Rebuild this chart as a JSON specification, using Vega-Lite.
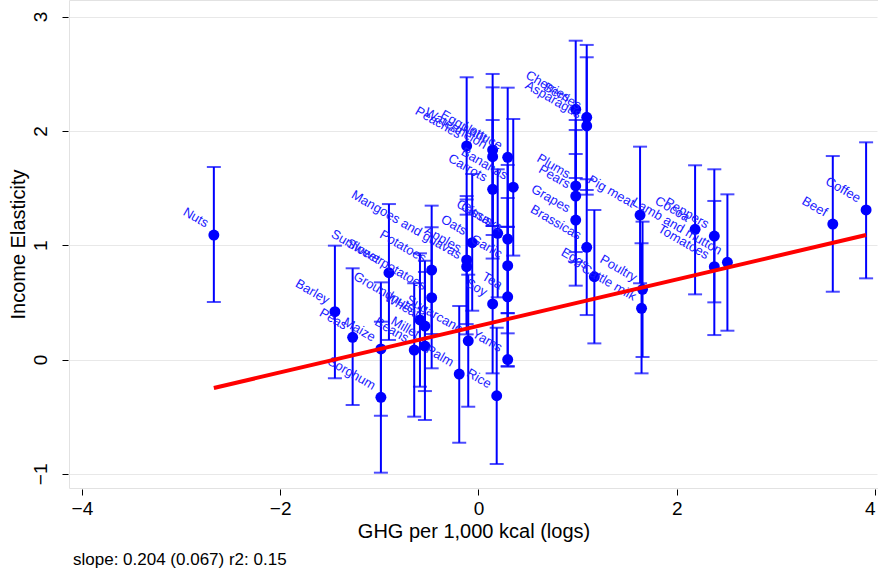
{
  "$schema": "https://vega.github.io/schema/vega-lite/v6.json",
  "width": 809,
  "height": 488,
  "autosize": {"type": "none"},
  "padding": {"left": 69, "top": 0, "right": 0, "bottom": 85},
  "background": "white",
  "title": {"text": "slope: 0.204 (0.067) r2: 0.15", "orient": "bottom", "anchor": "start", "frame": "group", "fontSize": 17, "fontWeight": "normal", "font": "Liberation Sans", "color": "black", "offset": 11, "dx": 4},
  "config": {
    "font": "Liberation Sans",
    "view": {"stroke": "#e2e2e2", "strokeWidth": 1},
    "axisX": {"domain": false, "grid": false, "tickColor": "black", "tickSize": 6, "tickWidth": 1, "offset": 1, "labelFontSize": 19, "labelColor": "black", "labelPadding": 4, "titleFontSize": 20, "titleFontWeight": "normal", "titleColor": "black", "titlePadding": 3, "format": "d"},
    "axisY": {"domain": false, "grid": true, "gridColor": "#e8e8e8", "gridWidth": 1, "tickColor": "black", "tickSize": 6, "tickWidth": 1, "offset": 1, "labelFontSize": 19, "labelColor": "black", "labelAngle": 270, "labelAlign": "center", "labelBaseline": "bottom", "labelPadding": 12, "titleFontSize": 20, "titleFontWeight": "normal", "titleColor": "black", "titlePadding": 3, "format": "d"}
  },
  "data": {"values": [
    {"food": "Nuts", "ghg": -2.669, "elasticity": 1.089, "lo": 0.503, "hi": 1.684},
    {"food": "Barley", "ghg": -1.448, "elasticity": 0.418, "lo": -0.164, "hi": 0.996},
    {"food": "Peas", "ghg": -1.269, "elasticity": 0.194, "lo": -0.398, "hi": 0.798},
    {"food": "Maize", "ghg": -0.984, "elasticity": 0.092, "lo": -0.492, "hi": 0.675},
    {"food": "Sorghum", "ghg": -0.984, "elasticity": -0.331, "lo": -0.99, "hi": 0.331},
    {"food": "Sunflower", "ghg": -0.903, "elasticity": 0.759, "lo": 0.171, "hi": 1.36},
    {"food": "Sweet potatoes", "ghg": -0.472, "elasticity": 0.541, "lo": -0.077, "hi": 1.157},
    {"food": "Potatoes", "ghg": -0.472, "elasticity": 0.783, "lo": 0.223, "hi": 1.346},
    {"food": "Beans", "ghg": -0.648, "elasticity": 0.083, "lo": -0.5, "hi": 0.667},
    {"food": "Groundnuts", "ghg": -0.59, "elasticity": 0.346, "lo": -0.238, "hi": 0.929},
    {"food": "Wheat", "ghg": -0.54, "elasticity": 0.293, "lo": -0.276, "hi": 0.864},
    {"food": "Millet", "ghg": -0.54, "elasticity": 0.118, "lo": -0.529, "hi": 0.766},
    {"food": "Mangoes and guavas", "ghg": -0.119, "elasticity": 0.812, "lo": 0.22, "hi": 1.4},
    {"food": "Apples", "ghg": -0.119, "elasticity": 0.871, "lo": 0.31, "hi": 1.43},
    {"food": "Oats", "ghg": -0.063, "elasticity": 1.022, "lo": 0.427, "hi": 1.623},
    {"food": "Sugarcane", "ghg": -0.103, "elasticity": 0.164, "lo": -0.413, "hi": 0.742},
    {"food": "Palm", "ghg": -0.194, "elasticity": -0.127, "lo": -0.728, "hi": 0.468},
    {"food": "Peaches", "ghg": -0.119, "elasticity": 1.868, "lo": 1.267, "hi": 2.469},
    {"food": "Eggplant", "ghg": 0.143, "elasticity": 1.833, "lo": 1.168, "hi": 2.498},
    {"food": "Watermelon", "ghg": 0.143, "elasticity": 1.774, "lo": 1.168, "hi": 2.381},
    {"food": "Carrots", "ghg": 0.143, "elasticity": 1.489, "lo": 0.883, "hi": 2.095},
    {"food": "Soy", "ghg": 0.143, "elasticity": 0.486, "lo": -0.121, "hi": 1.089},
    {"food": "Rice", "ghg": 0.184, "elasticity": -0.317, "lo": -0.914, "hi": 0.278},
    {"food": "Citrus", "ghg": 0.194, "elasticity": 1.104, "lo": 0.544, "hi": 1.664},
    {"food": "Lettuce", "ghg": 0.295, "elasticity": 1.769, "lo": 1.159, "hi": 2.378},
    {"food": "Bananas", "ghg": 0.351, "elasticity": 1.507, "lo": 0.909, "hi": 2.104},
    {"food": "Cassava", "ghg": 0.295, "elasticity": 1.054, "lo": 0.404, "hi": 1.702},
    {"food": "Garlic", "ghg": 0.295, "elasticity": 0.821, "lo": 0.229, "hi": 1.413},
    {"food": "Tea", "ghg": 0.295, "elasticity": 0.549, "lo": -0.063, "hi": 1.162},
    {"food": "Yams", "ghg": 0.295, "elasticity": 0.0, "lo": -0.057, "hi": 0.407},
    {"food": "Cherries", "ghg": 0.981, "elasticity": 2.189, "lo": 1.588, "hi": 2.789},
    {"food": "Berries", "ghg": 1.092, "elasticity": 2.119, "lo": 1.483, "hi": 2.752},
    {"food": "Asparagus", "ghg": 1.092, "elasticity": 2.043, "lo": 1.442, "hi": 2.644},
    {"food": "Plums", "ghg": 0.981, "elasticity": 1.518, "lo": 0.94, "hi": 2.095},
    {"food": "Pears", "ghg": 0.981, "elasticity": 1.43, "lo": 0.853, "hi": 2.008},
    {"food": "Grapes", "ghg": 0.981, "elasticity": 1.22, "lo": 0.646, "hi": 1.798},
    {"food": "Brassicas", "ghg": 1.092, "elasticity": 0.982, "lo": 0.389, "hi": 1.577},
    {"food": "Eggs", "ghg": 1.169, "elasticity": 0.724, "lo": 0.141, "hi": 1.308},
    {"food": "Pig meat", "ghg": 1.63, "elasticity": 1.264, "lo": 0.667, "hi": 1.862},
    {"food": "Poultry", "ghg": 1.655, "elasticity": 0.614, "lo": 0.022, "hi": 1.206},
    {"food": "Cattle milk", "ghg": 1.645, "elasticity": 0.448, "lo": -0.121, "hi": 1.017},
    {"food": "Cocoa", "ghg": 2.185, "elasticity": 1.139, "lo": 0.57, "hi": 1.699},
    {"food": "Peppers", "ghg": 2.379, "elasticity": 1.08, "lo": 0.5, "hi": 1.664},
    {"food": "Tomatoes", "ghg": 2.379, "elasticity": 0.812, "lo": 0.214, "hi": 1.387},
    {"food": "Lamb and mutton", "ghg": 2.511, "elasticity": 0.85, "lo": 0.252, "hi": 1.445},
    {"food": "Beef", "ghg": 3.574, "elasticity": 1.185, "lo": 0.593, "hi": 1.78},
    {"food": "Coffee", "ghg": 3.91, "elasticity": 1.308, "lo": 0.71, "hi": 1.9}
  ]},
  "layer": [
    {
      "mark": {"type": "rule", "color": "#0000ff", "strokeWidth": 2},
      "encoding": {
        "x": {"field": "ghg", "type": "quantitative", "title": "GHG per 1,000 kcal (logs)", "scale": {"domain": [-4.13, 4.03], "nice": false, "zero": false}, "axis": {"values": [-4, -2, 0, 2, 4], "labelAlign": {"expr": "datum.value == 4 ? 'right' : 'center'"}}},
        "y": {"field": "lo", "type": "quantitative", "title": "Income Elasticity", "scale": {"domain": [-1.124, 3.145], "nice": false, "zero": false}, "axis": {"values": [-1, 0, 1, 2, 3]}},
        "y2": {"field": "hi"}
      }
    },
    {
      "mark": {"type": "tick", "orient": "horizontal", "color": "#0000ff", "thickness": 2, "size": 14},
      "encoding": {
        "x": {"field": "ghg", "type": "quantitative", "title": "GHG per 1,000 kcal (logs)"},
        "y": {"field": "hi", "type": "quantitative", "title": "Income Elasticity"}
      }
    },
    {
      "mark": {"type": "tick", "orient": "horizontal", "color": "#0000ff", "thickness": 2, "size": 14},
      "encoding": {
        "x": {"field": "ghg", "type": "quantitative", "title": "GHG per 1,000 kcal (logs)"},
        "y": {"field": "lo", "type": "quantitative", "title": "Income Elasticity"}
      }
    },
    {
      "mark": {"type": "circle", "color": "#0000ff", "opacity": 1, "size": 120},
      "encoding": {
        "x": {"field": "ghg", "type": "quantitative", "title": "GHG per 1,000 kcal (logs)"},
        "y": {"field": "elasticity", "type": "quantitative", "title": "Income Elasticity"}
      }
    },
    {
      "mark": {"type": "text", "angle": 30, "align": "right", "baseline": "bottom", "dx": -11, "dy": 1, "fontSize": 13, "color": "#1a1aff", "font": "Liberation Sans"},
      "encoding": {
        "x": {"field": "ghg", "type": "quantitative", "title": "GHG per 1,000 kcal (logs)"},
        "y": {"field": "elasticity", "type": "quantitative", "title": "Income Elasticity"},
        "text": {"field": "food"}
      }
    },
    {
      "data": {"values": [
        {"ghg": -2.669, "fit": -0.249},
        {"ghg": 3.91, "fit": 1.089}
      ]},
      "mark": {"type": "line", "color": "#ff0000", "strokeWidth": 4},
      "encoding": {
        "x": {"field": "ghg", "type": "quantitative", "title": "GHG per 1,000 kcal (logs)"},
        "y": {"field": "fit", "type": "quantitative", "title": "Income Elasticity"}
      }
    }
  ]
}
